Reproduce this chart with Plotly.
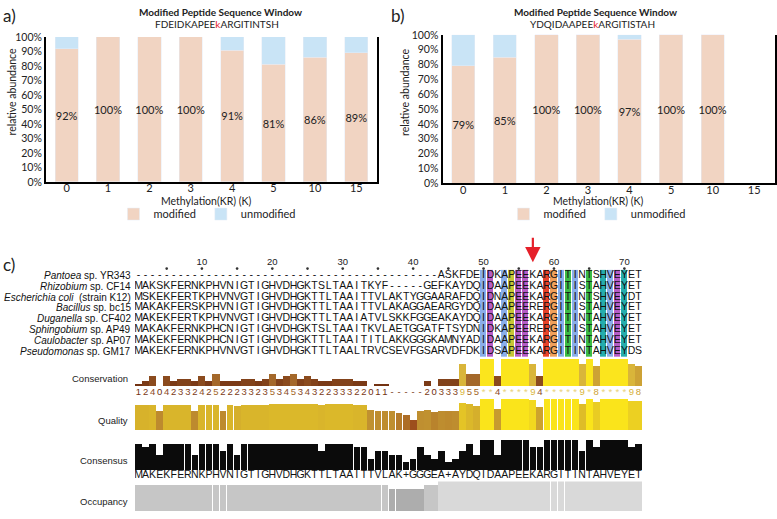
import plotly.graph_objects as go
from plotly.colors import sample_colorscale

# ---------------- data: panels a / b ----------------
categories = ["0", "1", "2", "3", "4", "5", "10", "15"]
a_modified = [92, 100, 100, 100, 91, 81, 86, 89]
a_unmodified = [8, 0, 0, 0, 9, 19, 14, 11]
b_modified = [79, 85, 100, 100, 97, 100, 100, None]
b_unmodified = [21, 15, 0, 0, 3, 0, 0, None]
pct_ticks = [0, 10, 20, 30, 40, 50, 60, 70, 80, 90, 100]
pct_tick_labels = ["0%", "10%", "20%", "30%", "40%", "50%", "60%", "70%", "80%", "90%", "100%"]
a_window = ("FDEIDKAPEE", "k", "ARGITINTSH")
b_window = ("YDQIDAAPEE", "k", "ARGITISTAH")

# ---------------- data: panel c (alignment) ----------------
species = [
    "<i>Pantoea</i> sp. YR343",
    "<i>Rhizobium</i> sp. CF14",
    "<i>Escherichia coli</i>  (strain K12)",
    "<i>Bacillus</i> sp. bc15",
    "<i>Duganella</i> sp. CF402",
    "<i>Sphingobium</i> sp. AP49",
    "<i>Caulobacter</i> sp. AP07",
    "<i>Pseudomonas</i> sp. GM17",
]
sequences = [
    "-------------------------------------------ASKFDEIDKAPEEKARGITINTSHVEYET",
    "MAKSKFERNKPHVNIGTIGHVDHGKTSLTAAITKYF-----GEFKAYDQIDAAPEEKARGITISTAHVEYET",
    "MSKEKFERTKPHVNVGTIGHVDHGKTTLTAAITTVLAKTYGGAARAFDQIDNAPEEKARGITINTSHVEYDT",
    "MAKAKFERSKPHVNIGTIGHVDHGKTTLTAAITTVLAKAGGAEARGYDQIDAAPEERERGITISTAHVEYET",
    "MAKEKFERTKPHVNVGTIGHVDHGKTTLTAAIATVLSKKFGGEAKAYDQIDAAPEEKARGITINTAHVEYET",
    "MAKAKFERNKPHCNIGTIGHVDHGKTSLTAAITKVLAETGGATFTSYDNIDKAPEERERGITISTAHVEYET",
    "MAKEKFERNKPHCNIGTIGHVDHGKTTLTAAITITLAKKGGGKAMNYADIDAAPEEKARGITINTAHVEYET",
    "MAKEKFERNKPHVNVGTIGHVDHGKTTLTAALTRVCSEVFGSARVDFDKIDSAPEEKARGITINTAHVEYDS",
]
columns = list(range(1, 73))
ruler_numbers = [10, 20, 30, 40, 50, 60, 70]
ruler_dots = [5, 10, 15, 20, 25, 30, 35, 40, 45, 50, 55, 60, 65, 70]

conservation = [1, 2, 4, 0, 4, 2, 3, 3, 2, 4, 2, 5, 2, 2, 2, 3, 3, 2, 3, 5,
                3, 4, 5, 3, 4, 3, 2, 2, 3, 3, 3, 2, 2, 0, 1, 1,
                None, None, None, None, None,
                2, 0, 3, 3, 3, 9, 5, 5,
                11, 11, 4, 11, 11, 11, 11, 9, 4, 11, 11, 11, 11, 11, 9, 11, 8,
                11, 11, 11, 11, 9, 8]
quality = [25.5, 25.5, 26, 19, 26, 26, 26, 26, 19, 26, 26, 26, 19, 26, 25, 26, 26, 26,
           26, 26.5, 26.5, 26.5, 26.5, 26.5, 26.5, 26.5, 26, 26.5, 26.5, 26.5, 26.5, 26,
           26, 20, 19.5, 19.5, 19.7, 17, 15, 10.7, 19.7, 20, 18, 19.5, 19, 19.5, 28, 26.5,
           25, 32, 32, 21.7, 32, 32, 32, 32, 30.5, 23, 32, 32, 32, 32, 32, 27, 32, 29,
           32, 32, 32, 32, 29.5, 29.5]
consensus_pct = [87.5, 75, 87.5, 50, 87.5, 87.5, 87.5, 87.5, 50, 87.5, 87.5, 87.5, 62.5,
                 87.5, 50, 87.5, 87.5, 87.5, 87.5, 87.5, 87.5, 87.5, 87.5, 87.5, 87.5, 87.5,
                 62.5, 87.5, 87.5, 87.5, 87.5, 75, 75, 37.5, 62.5, 62.5, 50, 50, 25, 37.5,
                 75, 50, 37.5, 62.5, 25, 37.5, 62.5, 87.5, 50, 100, 100, 50, 100, 100, 100,
                 100, 75, 75, 100, 100, 100, 100, 100, 62.5, 100, 75, 100, 100, 100, 100,
                 75, 87.5]
consensus_seq = "MAKEKFERNKPHVNIGTIGHVDHGKTTLTAAITTVLAK+GGGEA+AYDQIDAAPEEKARGITINTAHVEYET"
occupancy = [7] * 36 + [6] * 5 + [7] * 2 + [8] * 29
colored_columns = [50, 51, 53, 54, 55, 56, 59, 60, 61, 62, 63, 65, 67, 68, 69, 70]
colored_classes = ["hydrophobic", "negative", "hydrophobic", "proline", "negative", "negative",
                   "positive", "glycine", "hydrophobic", "polar", "hydrophobic", "polar",
                   "aromatic", "hydrophobic", "negative", "aromatic"]
arrow_column = 57

# ---------------- styles ----------------
W, H = 777, 519
FONT_AB = "Lato"
FONT_C = "Liberation Sans, Arial"
PEACH = "#F1D4C2"
LBLUE = "#C9E4F6"
class_colors = {
    "hydrophobic": "#8AAEEA",
    "negative": "#B65CC6",
    "proline": "#C6C636",
    "positive": "#E8432A",
    "glycine": "#F0A05A",
    "polar": "#3CBB46",
    "aromatic": "#25ADAD",
}
cons_scale = [[0, "#6B2A0E"], [0.36, "#8A4A1E"], [0.46, "#A66A2B"], [0.73, "#CDA335"],
              [0.82, "#D9B53A"], [1, "#FBE51D"]]
qual_scale = [[0, "#9A4A1C"], [0.45, "#C09030"], [0.73, "#D9B52B"], [1, "#FAE41B"]]
occ_scale = [[0, "#ADADAD"], [0.5, "#C6C6C6"], [1, "#D9D9D9"]]


def fx(px):
    return px / W


def fy(py):
    return 1 - py / H


fig = go.Figure()


def pct_text(vals):
    return ["" if v is None else f"{v}%" for v in vals]


for xa, ya, mod, unm, lg in [("x", "y", a_modified, a_unmodified, "legend"),
                             ("x2", "y2", b_modified, b_unmodified, "legend2")]:
    fig.add_trace(go.Bar(x=categories, y=mod, name="modified", marker_color=PEACH,
                         width=0.56, text=pct_text(mod), textposition="inside",
                         insidetextanchor="middle", constraintext="none", textangle=0,
                         textfont=dict(family=FONT_AB, size=11, color="#222"),
                         xaxis=xa, yaxis=ya, legend=lg, hoverinfo="skip"))
    fig.add_trace(go.Bar(x=categories, y=unm, name="unmodified", marker_color=LBLUE,
                         width=0.56, xaxis=xa, yaxis=ya, legend=lg, hoverinfo="skip"))

# ---- alignment colour cells
class_order = list(class_colors.keys())
n_cls = len(class_order)
z = [[None] * len(columns) for _ in sequences]
for col, cls in zip(colored_columns, colored_classes):
    for r in range(len(sequences)):
        z[r][col - 1] = class_order.index(cls)
cscale = []
for i, c in enumerate(class_order):
    cscale += [[i / n_cls, class_colors[c]], [(i + 1) / n_cls, class_colors[c]]]
fig.add_trace(go.Heatmap(x=columns, y=list(range(len(sequences))), z=z, colorscale=cscale,
                         zmin=-0.5, zmax=n_cls - 0.5, showscale=False, xgap=1, ygap=0,
                         xaxis="x3", yaxis="y3", hoverinfo="skip"))
for r, seq in enumerate(sequences):
    fig.add_trace(go.Scatter(x=columns, y=[r] * len(columns), text=list(seq), mode="text",
                             textfont=dict(family=FONT_C, size=10.5, color="#111"),
                             xaxis="x3", yaxis="y3", showlegend=False, hoverinfo="skip"))
fig.add_trace(go.Scatter(x=ruler_numbers, y=[-1.14] * len(ruler_numbers),
                         text=[str(v) for v in ruler_numbers], mode="text",
                         textfont=dict(family=FONT_C, size=9.5, color="#222"),
                         xaxis="x3", yaxis="y3", showlegend=False, hoverinfo="skip"))
fig.add_trace(go.Scatter(x=ruler_dots, y=[-0.62] * len(ruler_dots), mode="markers",
                         marker=dict(size=2.6, color="#333"),
                         xaxis="x3", yaxis="y3", showlegend=False, hoverinfo="skip"))

# ---- conservation
cons_color = [0 if v is None else v for v in conservation]
fig.add_trace(go.Bar(x=columns, y=conservation, width=1.0,
                     marker=dict(color=cons_color, colorscale=cons_scale, cmin=0, cmax=11,
                                 line=dict(width=0)),
                     xaxis="x4", yaxis="y4", showlegend=False, hoverinfo="skip"))
cons_labels = ["-" if v is None else ("*" if v == 11 else str(v)) for v in conservation]
cons_label_colors = [c if v is not None else "#7A3A14" for v, c in
                     zip(conservation, sample_colorscale(cons_scale, [c / 11 for c in cons_color]))]
cons_label_colors = ["#E9D27A" if v == 11 else c for v, c in zip(conservation, cons_label_colors)]
fig.add_trace(go.Scatter(x=columns, y=[-2.55] * len(columns), text=cons_labels, mode="text",
                         textfont=dict(family=FONT_C, size=9.5, color=cons_label_colors),
                         xaxis="x4", yaxis="y4", showlegend=False, hoverinfo="skip"))

# ---- quality
fig.add_trace(go.Bar(x=columns, y=quality, width=0.97,
                     marker=dict(color=quality, colorscale=qual_scale, cmin=10, cmax=32,
                                 line=dict(width=0)),
                     xaxis="x5", yaxis="y5", showlegend=False, hoverinfo="skip"))

# ---- consensus
fig.add_trace(go.Bar(x=columns, y=consensus_pct, width=0.94,
                     marker=dict(color="#0B0B0B", line=dict(width=0)),
                     xaxis="x6", yaxis="y6", showlegend=False, hoverinfo="skip"))
fig.add_trace(go.Scatter(x=columns, y=[-18.4] * len(columns), text=list(consensus_seq),
                         mode="text", textfont=dict(family=FONT_C, size=10.5, color="#111"),
                         xaxis="x6", yaxis="y6", showlegend=False, hoverinfo="skip"))

# ---- occupancy
fig.add_trace(go.Bar(x=columns, y=occupancy, width=0.98,
                     marker=dict(color=occupancy, colorscale=occ_scale, cmin=6, cmax=8,
                                 line=dict(width=0)),
                     xaxis="x7", yaxis="y7", showlegend=False, hoverinfo="skip"))

# ---------------- layout ----------------
tickfont_ab = dict(family=FONT_AB, size=11, color="#222")


def bar_x(domain, anchor):
    return dict(domain=domain, type="category", categoryorder="array", categoryarray=categories,
                range=[-0.5, 7.5], showline=True, linecolor="black", linewidth=2, ticks="",
                tickfont=tickfont_ab, showgrid=False, zeroline=False, anchor=anchor,
                ticklabelstandoff=-5, fixedrange=True)


def bar_y(domain, anchor):
    return dict(domain=domain, range=[0, 100], tickvals=pct_ticks, ticktext=pct_tick_labels,
                showline=True, mirror=True, linecolor="black", linewidth=2, ticks="",
                tickfont=dict(family=FONT_AB, size=10.5, color="#222"), showgrid=False,
                zeroline=False, anchor=anchor, fixedrange=True)


def hidden(domain, rng, anchor):
    return dict(domain=domain, range=rng, visible=False, showgrid=False, zeroline=False,
                anchor=anchor, fixedrange=True)


xdom_c = [fx(135), fx(642)]
legend_common = dict(orientation="h", yanchor="middle", y=fy(213), xanchor="center",
                     font=dict(family=FONT_AB, size=11, color="#222"), itemwidth=30,
                     bgcolor="rgba(0,0,0,0)", traceorder="normal")
layout = dict(
    width=W, height=H, margin=dict(l=0, r=0, t=0, b=0), autosize=False,
    paper_bgcolor="white", plot_bgcolor="rgba(0,0,0,0)", barmode="stack",
    hovermode=False, font=dict(family=FONT_AB, color="#222"),
    xaxis=bar_x([fx(46), fx(377)], "y"),
    yaxis=bar_y([fy(180), fy(31.7)], "x"),
    xaxis2=bar_x([fx(442.5), fx(775)], "y2"),
    yaxis2=bar_y([fy(181.5), fy(29.5)], "x2"),
    xaxis3=hidden(xdom_c, [0.5, 72.5], "y3"),
    yaxis3=hidden([fy(358.95), fy(255)], [7.5, -1.865], "x3"),
    xaxis4=hidden(xdom_c, [0.5, 72.5], "y4"),
    yaxis4=hidden([fy(400), fy(361)], [-4.32, 11], "x4"),
    xaxis5=hidden(xdom_c, [0.5, 72.5], "y5"),
    yaxis5=hidden([fy(434), fy(402)], [0, 32], "x5"),
    xaxis6=hidden(xdom_c, [0.5, 72.5], "y6"),
    yaxis6=hidden([fy(486), fy(444)], [-35.5, 100], "x6"),
    xaxis7=hidden(xdom_c, [0.5, 72.5], "y7"),
    yaxis7=hidden([fy(517.3), fy(486.7)], [0, 8], "x7"),
    legend=dict(legend_common, x=fx(207)),
    legend2=dict(legend_common, x=fx(597)),
)
fig.update_layout(**layout)

ann = []


def note(text, x, y, size=10, xanchor="center", yanchor="middle", family=FONT_AB,
         xref="paper", yref="paper", angle=0, color="#222"):
    ann.append(dict(text=text, x=x, y=y, xref=xref, yref=yref, xanchor=xanchor,
                    yanchor=yanchor, showarrow=False, textangle=angle,
                    font=dict(family=family, size=size, color=color)))


note("a)", fx(1), fy(10), size=17, xanchor="left")
note("b)", fx(389), fy(10), size=17, xanchor="left")
note("c)", fx(1), fy(265), size=17, xanchor="left")
for cx, win in [(220, a_window), (595, b_window)]:
    note("<b>Modified Peptide Sequence Window</b>", fx(cx), fy(6.5), size=10)
    note(f"{win[0]}<span style='color:#E5202A'>{win[1]}</span>{win[2]}", fx(cx - 3), fy(18.5), size=10)
note("relative abundance", fx(11.5), fy(88), size=10.5, angle=-90)
note("relative abundance", fx(405.5), fy(88.5), size=10.5, angle=-90)
note("Methylation(KR) (K)", fx(206), fy(199.5), size=10.5)
note("Methylation(KR) (K)", fx(598), fy(200), size=10.5)
for r, s in enumerate(species):
    note(s, fx(133), r, size=10, xanchor="right", family=FONT_C, yref="y3", color="#111")
for label, py in [("Conservation", 381.7), ("Quality", 424), ("Consensus", 465.7),
                  ("Occupancy", 507.7)]:
    note(label, fx(130), fy(py), size=9.5, xanchor="right", family=FONT_C, color="#222")
ann.append(dict(x=arrow_column, y=-1.2, xref="x3", yref="y3", ax=0, ay=-26, showarrow=True,
                arrowhead=2, arrowsize=1.4, arrowwidth=2.2, arrowcolor="#E5202A", text=""))
fig.update_layout(annotations=ann)

fig.write_html("out.html", config={"displayModeBar": False},
               post_script="document.body.style.margin='0px';")
